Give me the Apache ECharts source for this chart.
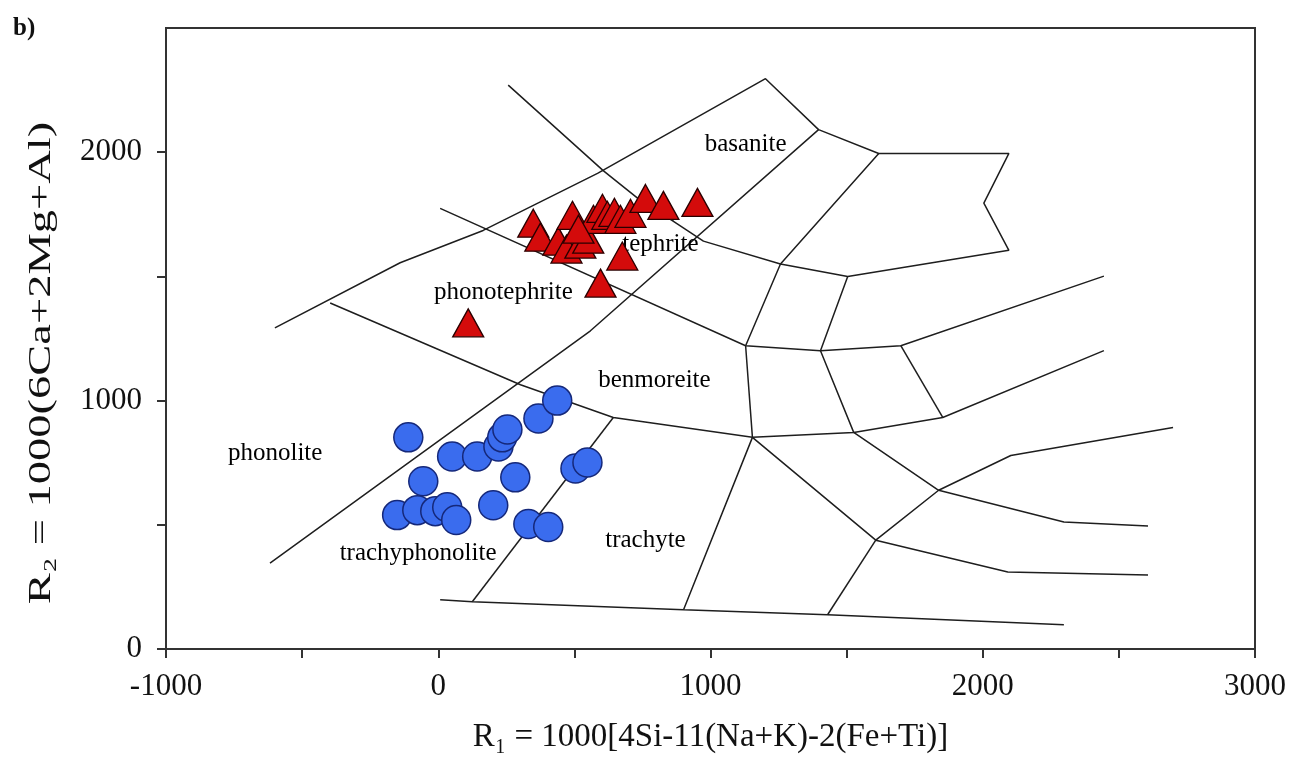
<!DOCTYPE html>
<html lang="en">
<head>
<meta charset="UTF-8">
<title>R1-R2 diagram</title>
<style>
  html, body { margin: 0; padding: 0; background: #fff; }
  #main { width: 1294px; height: 759px; }
</style>
</head>
<body>
<div id="main"></div>
<script src="https://cdn.jsdelivr.net/npm/echarts@6/dist/echarts.min.js"></script>
<script>
// axis ticks
var xLabelValues = [-1000, 0, 1000, 2000, 3000];
var xTickValues = [-1000, -500, 0, 500, 1000, 1500, 2000, 2500, 3000];
var yLabelValues = [0, 1000, 2000];
var yTickValues = [0, 500, 1000, 1500, 2000];

// field boundaries (R1, R2)
var upperPath = [[257,2270],[607,1925],[732,1815],[864,1722],[974,1642],[1257,1550],[1504,1500],
  [2096,1605],[2004,1795],[2096,1995],[1618,1995],[1397,2091],[1202,2296],[585,1915],[165,1685],[-140,1555],[-600,1293]];
var diagLine = [[1397,2091],[559,1281],[-618,346]];
var line3 = [[7,1774],[1129,1221],[1404,1201],[1699,1221],[2445,1501]];
var line4 = [[-397,1393],[302,1064],[643,932],[1154,852],[1526,872],[1853,932],[2445,1201]];
var cross1 = [[1618,1995],[1257,1550],[1129,1221],[1154,852],[901,158]];
var cross2 = [[1504,1500],[1404,1201],[1526,872],[1838,639],[2298,511],[2607,495]];
var cross3 = [[1699,1221],[1853,932]];
var cross4 = [[1154,852],[1607,438],[2092,310],[2607,298]];
var cross5 = [[1607,438],[1430,138]];
var cross6 = [[1607,438],[1838,639],[2103,779],[2699,892]];
var cross7 = [[643,932],[125,190]];
var baseLine = [[7,198],[125,190],[901,158],[1430,138],[2298,98]];
var boundaries = [upperPath, diagLine, line3, line4, cross1, cross2, cross3, cross4, cross5, cross6, cross7, baseLine];

// field names
var fieldNames = ['basanite', 'tephrite', 'phonotephrite', 'benmoreite', 'phonolite', 'trachyphonolite', 'trachyte'];
var fieldX = [1129, 816, 239, 794, -599, -74, 761];
var fieldY = [2031, 1630, 1437, 1080, 787, 386, 438];

// samples
var triX = [349, 375, 441, 471, 493, 522, 551, 570, 603, 621, 647, 669, 706, 761, 827, 952, 676, 596, 110, 515];
var triY = [1714, 1658, 1642, 1610, 1746, 1630, 1650, 1730, 1774, 1746, 1758, 1730, 1754, 1814, 1786, 1798, 1582, 1473, 1313, 1690];
var dotX = [-110, -55, -151, -77, -11, 33, 66, 51, 143, 221, 235, 254, 283, 202, 368, 437, 504, 548, 331, 404];
var dotY = [852, 675, 539, 559, 555, 571, 519, 775, 775, 815, 852, 884, 691, 579, 928, 1000, 727, 751, 503, 491];

function zip(a, b) {
  return a.map(function (v, i) { return [v, b[i]]; });
}
function plain(v) { return String(v); }

var serif = '"Liberation Serif", "Times New Roman", serif';
var chart = echarts.init(document.getElementById('main'));

var series = boundaries.map(function (pts) {
  return {
    type: 'line', data: pts, symbol: 'none', silent: true, z: 2,
    lineStyle: { color: '#1e1e1e', width: 1.5 }
  };
});
series.push({
  type: 'scatter', z: 3, silent: true, symbolSize: 1,
  itemStyle: { color: '#fff', opacity: 1 },
  data: fieldNames.map(function (n, i) { return { name: n, value: [fieldX[i], fieldY[i]] }; }),
  label: {
    show: true, position: 'inside', formatter: '{b}', opacity: 1,
    fontFamily: serif, fontSize: 25, color: '#000', textBorderWidth: 0
  }
});
series.push({
  type: 'scatter', z: 4, symbol: 'circle', symbolSize: 29,
  itemStyle: { color: '#3a6cee', borderColor: '#15287a', borderWidth: 1.5, opacity: 1 },
  data: zip(dotX, dotY)
});
series.push({
  type: 'scatter', z: 5, symbol: 'triangle', symbolSize: [31, 28],
  itemStyle: { color: '#d40b0b', borderColor: '#2a0000', borderWidth: 1.3, opacity: 1 },
  data: zip(triX, triY)
});

chart.setOption({
  backgroundColor: '#fff',
  animation: false,
  grid: {
    left: 166, right: 39, top: 28, bottom: 110,
    show: true, borderColor: '#333', borderWidth: 2,
    outerBoundsMode: 'none'
  },
  xAxis: {
    type: 'value', min: -1000, max: 3000, interval: 500,
    name: 'R\u2081 = 1000[4Si-11(Na+K)-2(Fe+Ti)]',
    nameLocation: 'middle', nameGap: 72,
    nameTextStyle: { fontFamily: serif, fontSize: 33, color: '#111' },
    splitLine: { show: false },
    axisLine: { onZero: false, lineStyle: { color: '#333', width: 2 } },
    axisTick: { inside: false, length: 9, lineStyle: { color: '#333', width: 2 }, customValues: xTickValues },
    axisLabel: { fontFamily: serif, fontSize: 31, color: '#111', margin: 22, formatter: plain, customValues: xLabelValues }
  },
  yAxis: {
    type: 'value', min: 0, max: 2500, interval: 500,
    splitLine: { show: false },
    axisLine: { onZero: false, lineStyle: { color: '#333', width: 2 } },
    axisTick: { inside: false, length: 9, lineStyle: { color: '#333', width: 2 }, customValues: yTickValues },
    axisLabel: { fontFamily: serif, fontSize: 31, color: '#111', margin: 24, formatter: plain, customValues: yLabelValues }
  },
  graphic: [
    {
      type: 'text', x: 42, y: 363, rotation: Math.PI / 2, scaleX: 1.5,
      style: {
        text: 'R\u2082 = 1000(6Ca+2Mg+Al)', fontFamily: serif, fontSize: 31,
        fill: '#111', align: 'center', verticalAlign: 'middle'
      }
    },
    {
      type: 'text', left: 13, top: 16,
      style: { text: 'b)', fontFamily: serif, fontSize: 25, fontWeight: 'bold', fill: '#111' }
    }
  ],
  series: series
});
</script>
</body>
</html>
